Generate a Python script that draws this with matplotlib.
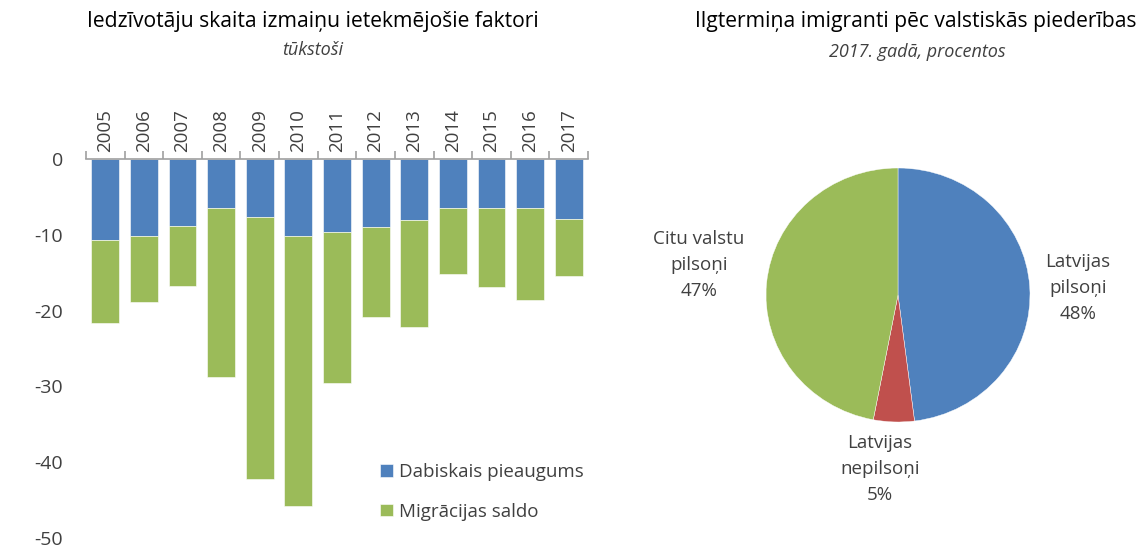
import matplotlib
matplotlib.use("Agg")
import matplotlib.pyplot as plt
import numpy as np

plt.rcParams['font.family'] = ['Open Sans', 'DejaVu Sans']

years = ['2005', '2006', '2007', '2008', '2009', '2010', '2011', '2012',
         '2013', '2014', '2015', '2016', '2017']
natural = [-10.7, -10.1, -8.9, -6.5, -7.7, -10.1, -9.6, -9.0, -8.0, -6.5, -6.4, -6.5, -7.9]
migration = [-10.9, -8.8, -7.9, -22.2, -34.5, -35.7, -19.9, -11.8, -14.1, -8.7, -10.5, -12.1, -7.6]
series_names = ['Dabiskais pieaugums', 'Migrācijas saldo']

pie_labels = ['Latvijas\npilsoņi\n48%', 'Latvijas\nnepilsoņi\n5%', 'Citu valstu\npilsoņi\n47%']
pie_values = [48, 5, 47]

BLUE = '#4F81BD'
RED = '#C0504D'
GREEN = '#9BBB59'
TXT = '#404040'

fig = plt.figure(figsize=(11.42, 5.47), dpi=100)

# ---------- Bar chart ----------
ax = fig.add_axes([86/1142, 1-538/547, (588-86)/1142, (538-159)/547])
x = np.arange(len(years))
ax.bar(x, natural, width=0.72, color=BLUE, label=series_names[0],
       edgecolor='white', linewidth=0.4)
ax.bar(x, migration, width=0.72, bottom=natural, color=GREEN, label=series_names[1],
       edgecolor='white', linewidth=0.4)
ax.set_ylim(-50, 0)
ax.set_xlim(-0.5, len(years) - 0.5)
ax.set_yticks([0, -10, -20, -30, -40, -50])
ax.set_yticklabels(['0', '-10', '-20', '-30', '-40', '-50'])
ax.tick_params(axis='y', length=0, pad=16.5, labelsize=14, labelcolor=TXT)
ax.xaxis.tick_top()
ax.set_xticks(np.arange(len(years) + 1) - 0.5)
ax.set_xticklabels([])
ax.set_xticks(x, minor=True)
ax.set_xticklabels(years, minor=True, rotation=90, fontsize=13.5, color=TXT)
ax.tick_params(axis='x', which='major', length=6, color='#A0A0A0', width=1.2, direction='out')
ax.tick_params(axis='x', which='minor', length=0, pad=5)
for s in ['left', 'right', 'bottom']:
    ax.spines[s].set_visible(False)
ax.spines['top'].set_color('#A0A0A0')
ax.spines['top'].set_linewidth(1.2)
leg = ax.legend(loc='center left', bbox_to_anchor=(371/1142, 1-492/547),
                bbox_transform=fig.transFigure, frameon=False, borderpad=0,
                fontsize=13.5, handlelength=0.65, handleheight=0.65,
                handletextpad=0.35, labelspacing=1.15, labelcolor=TXT)

fig.text(313/1142, 1-22/547, 'Iedzīvotāju skaita izmaiņu ietekmējošie faktori',
         ha='center', va='center', fontsize=15.2, color='black')
fig.text(313/1142, 1-50/547, 'tūkstoši', ha='center', va='center',
         fontsize=13, style='italic', color=TXT)

# ---------- Pie chart ----------
cx, cy = 898, 295
rx, ry = 132, 127
pax = fig.add_axes([(cx - 2*rx)/1142, 1-(cy + 2*ry)/547, 4*rx/1142, 4*ry/547])
wedges, _ = pax.pie(pie_values, colors=[BLUE, RED, GREEN], startangle=90,
                    counterclock=False, radius=1,
                    wedgeprops=dict(edgecolor='white', linewidth=0.3))
pax.set_aspect('auto')
pax.set_xlim(-2, 2)
pax.set_ylim(-2, 2)
pax.axis('off')

label_pos = [(1078, 288), (880, 469), (699, 265)]
for (lx, ly), lab in zip(label_pos, pie_labels):
    fig.text(lx/1142, 1-ly/547, lab, ha='center', va='center', fontsize=13.5,
             color=TXT, linespacing=1.6)

fig.text(916/1142, 1-22/547, 'Ilgtermiņa imigranti pēc valstiskās piederības',
         ha='center', va='center', fontsize=15.2, color='black')
fig.text(917/1142, 1-52/547, '2017. gadā, procentos', ha='center', va='center',
         fontsize=13, style='italic', color=TXT)

fig.savefig('out.png', dpi=100)
